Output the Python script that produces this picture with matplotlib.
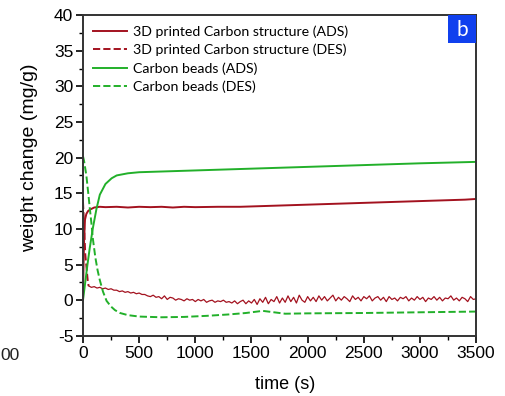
import numpy as np
import matplotlib
matplotlib.use("Agg")
import matplotlib.pyplot as plt
from matplotlib.patches import Rectangle
from matplotlib.ticker import MultipleLocator

# 3D printed carbon structure, adsorption
t_red_ads = [0, 5, 10, 18, 30, 45, 62, 100, 150, 200, 300, 400, 500, 600, 700, 800, 900, 1000,
             1200, 1400, 1600, 1800, 2000, 2200, 2400, 2600, 2800, 3000, 3200, 3400, 3500]
w_red_ads = [0.0, 5.0, 8.5, 11.3, 12.1, 12.5, 12.7, 13.0, 13.1, 13.05, 13.1, 13.0, 13.1, 13.05,
             13.1, 13.0, 13.1, 13.05, 13.1, 13.1, 13.2, 13.3, 13.4, 13.5, 13.6, 13.7, 13.8,
             13.9, 14.0, 14.1, 14.2]

# 3D printed carbon structure, desorption: fast drop then noisy signal
t_red_des_drop = [0, 10, 20, 33, 42, 50]
w_red_des_drop = [13.8, 10.5, 6.5, 4.3, 2.8, 2.0]
t_red_des = np.arange(50, 3501, 25)  # sampling grid of the noisy part
w_red_des = [
    2.0, 1.8, 1.9, 1.7, 1.8, 1.6, 1.7, 1.5, 1.6, 1.4,
    1.4, 1.2, 1.3, 1.1, 1.2, 1.0, 1.1, 0.9, 1.0, 0.8,
    0.8, 0.6, 0.5, 0.7, 0.4, 0.5, 0.2, 0.6, 0.1, 0.4,
    0.3, 0.0, 0.2, 0.1, -0.1, 0.2, 0.0, 0.1, -0.2, 0.1,
    -0.1, 0.1, -0.3, -0.1, 0.0, -0.3, -0.1, -0.2, 0.0, -0.3,
    -0.2, -0.4, -0.1, -0.5, -0.2, 0.0, -0.5, -0.1, -0.4, 0.1,
    -0.6, 0.2, -0.3, 0.4, -0.5, 0.1, -0.2, 0.5, -0.4, 0.3,
    -0.3, 0.6, -0.2, 0.4, -0.4, 0.7, 0.0, -0.3, 0.5, -0.1,
    0.4, -0.2, 0.6, 0.0, 0.5, -0.1, 0.3, 0.7, -0.1, 0.4,
    0.0, 0.5, 0.2, -0.2, 0.6, 0.1, 0.4, -0.1, 0.5, 0.2,
    0.6, -0.1, 0.3, 0.5, 0.0, 0.4, -0.2, 0.5, 0.1, 0.3,
    -0.1, 0.4, 0.2, 0.5, -0.1, 0.3, 0.0, 0.5, 0.1, 0.4,
    -0.2, 0.3, 0.1, 0.5, 0.0, 0.4, -0.1, 0.3, 0.2, 0.6,
    0.0, 0.3, -0.1, 0.4, 0.2, -0.2, 0.5, 0.1, 0.2,
]

# Carbon beads, adsorption
t_grn_ads = [0, 20, 40, 60, 89, 120, 150, 200, 255, 300, 400, 500, 700, 1000,
             1500, 2000, 2500, 3000, 3500]
w_grn_ads = [0.0, 2.5, 5.0, 7.3, 10.2, 12.8, 14.8, 16.3, 17.1, 17.5, 17.8, 17.95, 18.05,
             18.2, 18.45, 18.7, 18.95, 19.2, 19.4]

# Carbon beads, desorption
t_grn_des = [0, 10, 20, 30, 47, 60, 75, 89, 110, 130, 150, 178, 210, 250, 285, 330, 400,
             500, 700, 900, 1100, 1300, 1450, 1600, 1700, 1800, 2000, 2500, 3000, 3500]
w_grn_des = [20.2, 19.5, 18.5, 17.5, 15.0, 13.0, 10.8, 8.5, 6.0, 4.2, 2.8, 1.2, -0.1, -0.9,
             -1.4, -1.8, -2.1, -2.3, -2.4, -2.35, -2.2, -2.0, -1.8, -1.5, -1.7, -1.9,
             -1.85, -1.8, -1.7, -1.6]

RED = "#a3121f"
GREEN = "#22b02a"

plt.rcParams["font.family"] = ["Liberation Sans", "DejaVu Sans"]
plt.rcParams["axes.unicode_minus"] = False

fig = plt.figure(figsize=(5.06, 3.96), dpi=100)
ax = fig.add_axes([0.164, 0.152, 0.777, 0.810])

ax.plot(t_red_ads, w_red_ads, color=RED, lw=1.4, label="3D printed Carbon structure (ADS)")
ax.plot(t_red_des_drop, w_red_des_drop, color=RED, lw=1.4, ls="--",
        label="3D printed Carbon structure (DES)")
ax.plot(t_red_des, w_red_des, color=RED, lw=0.9)
ax.plot(t_grn_ads, w_grn_ads, color=GREEN, lw=1.4, label="Carbon beads (ADS)")
ax.plot(t_grn_des, w_grn_des, color=GREEN, lw=1.4, ls="--", label="Carbon beads (DES)")

ax.set_xlim(0, 3500)
ax.set_ylim(-5, 40)
ax.xaxis.set_major_locator(MultipleLocator(500))
ax.xaxis.set_minor_locator(MultipleLocator(250))
ax.yaxis.set_major_locator(MultipleLocator(5))
ax.yaxis.set_minor_locator(MultipleLocator(2.5))
ax.tick_params(which="major", direction="out", length=5, width=1.2, labelsize=12.5, pad=2)
ax.tick_params(which="minor", direction="out", length=3, width=1.0)
for sp in ax.spines.values():
    sp.set_linewidth(1.4)
    sp.set_color("#333333")

ax.set_xlabel("time (s)", fontsize=13)
ax.set_ylabel("weight change (mg/g)", fontsize=14)
ax.xaxis.set_label_coords(0.514, -0.125)
ax.yaxis.set_label_coords(-0.115, 0.555)

leg = ax.legend(loc="upper left", frameon=False, handlelength=2.4, handletextpad=0.45,
                labelspacing=0.42, borderaxespad=0.3,
                prop={"family": ["Lato", "DejaVu Sans"], "size": 10.2})

# panel letter box
ax.add_patch(Rectangle((1 - 28 / 393, 1 - 28 / 321), 28 / 393, 28 / 321,
                       transform=ax.transAxes, fc="#1040ee", ec="none", zorder=5))
ax.text(1 - 14 / 393, 1 - 15 / 321, "b", transform=ax.transAxes, ha="center", va="center",
        color="white", fontsize=15, family=["Lato", "DejaVu Sans"], zorder=6)

fig.text(0.0, 1 - 355 / 396, "00", ha="left", va="center", fontsize=12.5, color="#222222")

fig.savefig("out.png", dpi=100)
